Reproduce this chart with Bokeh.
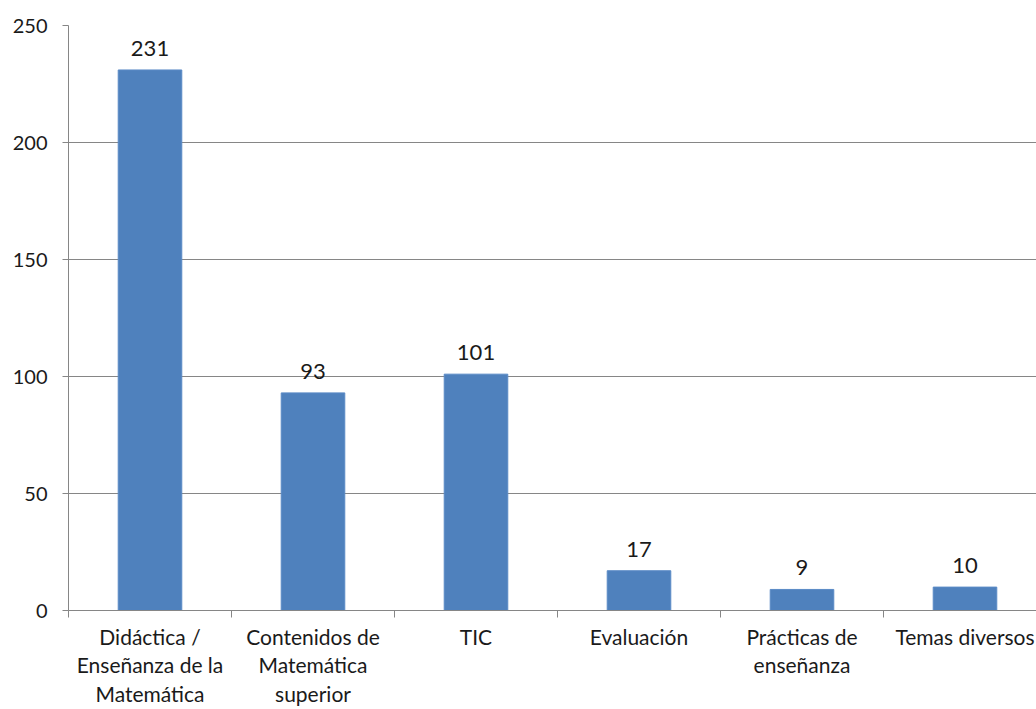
from bokeh.plotting import figure
from bokeh.models import Range1d, FixedTicker, ColumnDataSource
from bokeh.core.properties import value
from bokeh.embed import file_html
from bokeh.resources import INLINE

categories = ["Didáctica /\nEnseñanza de la\nMatemática",
              "Contenidos de\nMatemática\nsuperior",
              "TIC",
              "Evaluación",
              "Prácticas de\nenseñanza",
              "Temas diversos"]
counts = [231, 93, 101, 17, 9, 10]
y_ticks = [0, 50, 100, 150, 200, 250]

FONT = "Lato"
GRAY = "#868686"
TXT = "#1a1a1a"

xs = [i + 0.5 for i in range(len(categories))]
src = ColumnDataSource(dict(x=xs, top=counts, lbl=[str(c) for c in counts]))

p = figure(width=1036, height=709, output_backend="svg", toolbar_location=None,
           x_range=Range1d(0, 968 / 163), y_range=Range1d(0, 250),
           min_border_left=68, min_border_right=0, min_border_top=25, min_border_bottom=99)
p.outline_line_color = None
p.background_fill_color = "white"

p.vbar(x="x", top="top", bottom=0, width=0.39, source=src,
       fill_color="#4F81BD", line_color="#5A8AC6", line_width=1)
p.text(x="x", y="top", text="lbl", source=src, text_align="center",
       text_baseline="bottom", y_offset=-14, text_font=value(FONT),
       text_font_size="22px", text_color=TXT)

# y axis
yax = p.yaxis[0]
yax.ticker = FixedTicker(ticks=y_ticks)
yax.axis_line_color = GRAY
yax.major_tick_line_color = GRAY
yax.major_tick_in = 0
yax.major_tick_out = 6
yax.minor_tick_line_color = None
yax.major_label_text_font = FONT
yax.major_label_text_font_size = "20px"
yax.major_label_text_color = TXT
yax.major_label_standoff = 15

# x axis
xax = p.xaxis[0]
xax.ticker = FixedTicker(ticks=xs, minor_ticks=list(range(len(categories) + 1)))
xax.major_label_overrides = {x: c for x, c in zip(xs, categories)}
xax.axis_line_color = GRAY
xax.major_tick_line_color = None
xax.major_tick_in = 0
xax.major_tick_out = 0
xax.minor_tick_line_color = GRAY
xax.minor_tick_in = 0
xax.minor_tick_out = 7
xax.major_label_text_font = FONT
xax.major_label_text_font_size = "21px"
xax.major_label_text_color = TXT
xax.major_label_text_line_height = 1.15
xax.major_label_standoff = 6

p.xgrid.grid_line_color = None
p.ygrid.ticker = FixedTicker(ticks=y_ticks)
p.ygrid.grid_line_color = GRAY
p.ygrid.grid_line_width = 1

open("out.html", "w").write(file_html(p, INLINE))
